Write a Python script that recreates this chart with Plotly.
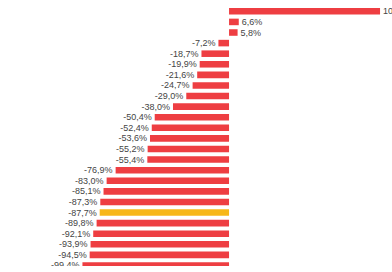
import plotly.graph_objects as go

values = [102.4, 6.6, 5.8, -7.2, -18.7, -19.9, -21.6, -24.7, -29.0, -38.0,
          -50.4, -52.4, -53.6, -55.2, -55.4, -76.9, -83.0, -85.1, -87.3,
          -87.7, -89.8, -92.1, -93.9, -94.5, -99.4]
highlight_index = 19
labels = [f"{v:.1f}%".replace(".", ",") for v in values]
rows = list(range(len(values)))

RED = "#EE3E42"
YELLOW = "#F7B719"
colors = [YELLOW if i == highlight_index else RED for i in rows]

fig = go.Figure(go.Bar(
    x=values, y=rows, orientation="h",
    marker=dict(color=colors, line=dict(width=0)),
    width=0.62,
    text=labels, textposition="outside",
    textfont=dict(family="Liberation Sans, Arial, sans-serif", size=9, color="#444444"),
    constraintext="none", cliponaxis=True,
))

fig.update_layout(
    width=392, height=272,
    margin=dict(l=0, r=0, t=0, b=6),
    paper_bgcolor="white", plot_bgcolor="white",
    showlegend=False,
    xaxis=dict(range=[-155.3, 110.5], visible=False, fixedrange=True),
    yaxis=dict(range=[24.05, -1.07], visible=False, fixedrange=True),
)

fig.write_html("out.html", config={"displayModeBar": False})
